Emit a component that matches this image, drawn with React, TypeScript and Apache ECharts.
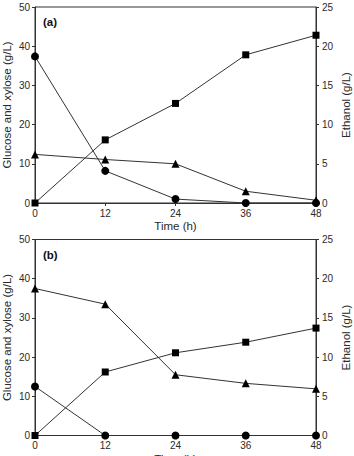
import React, { useEffect, useRef } from "react";
import * as echarts from "echarts";

// Sampling times (h)
const times = [0, 12, 24, 36, 48];

// Panel (a)
const glucoseA = [37.4, 8.2, 1.0, 0, 0];
const xyloseA = [12.4, 11.1, 10.0, 3.0, 0.7];
const ethanolA = [0, 8.05, 12.7, 18.9, 21.4];

// Panel (b)
const glucoseB = [12.5, 0, 0, 0, 0];
const xyloseB = [37.5, 33.5, 15.5, 13.3, 11.9];
const ethanolB = [0, 8.1, 10.55, 11.9, 13.7];

const panelLabels = ["(a)", "(b)"];

const FONT = "'Liberation Sans', Arial, sans-serif";
const TEXT = "#2a2a2a";
const LINE = "#333";

const pair = (ys: number[]) => times.map((t, i) => [t, ys[i]]);

export default function App() {
  const ref = useRef<HTMLDivElement>(null);

  useEffect(() => {
    if (!ref.current) return;
    const chart = echarts.init(ref.current, undefined, { renderer: "svg" });

    const gridBase = {
      left: 35,
      right: 38,
      height: 196,
      show: true,
      borderColor: LINE,
      borderWidth: 1,
      outerBoundsMode: "none",
      containLabel: false,
    };
    const grids = [
      { ...gridBase, top: 7 },
      { ...gridBase, top: 239.5 },
    ];

    const tick = { show: true, inside: false, length: 3, lineStyle: { color: LINE } };

    const xAxes = [0, 1].map((g) => ({
      type: "value",
      gridIndex: g,
      min: 0,
      max: 48,
      interval: 12,
      name: "Time (h)",
      nameLocation: "middle",
      nameGap: 17,
      nameMoveOverlap: false,
      nameTextStyle: { fontFamily: FONT, fontSize: 11.5, color: TEXT },
      axisLine: { show: true, lineStyle: { color: LINE, width: 1 } },
      axisTick: tick,
      axisLabel: { fontFamily: FONT, fontSize: 10, color: TEXT, margin: 5 },
      splitLine: { show: false },
    }));

    const yAxes: any[] = [];
    [0, 1].forEach((g) => {
      yAxes.push({
        type: "value",
        gridIndex: g,
        position: "left",
        min: 0,
        max: 50,
        interval: 10,
        name: "Glucose and xylose (g/L)",
        nameLocation: "middle",
        nameGap: 22,
        nameMoveOverlap: false,
        nameTextStyle: { fontFamily: FONT, fontSize: 11.5, color: TEXT },
        axisLine: { show: true, lineStyle: { color: LINE, width: 1 } },
        axisTick: tick,
        axisLabel: { fontFamily: FONT, fontSize: 10, color: TEXT, margin: 5 },
        splitLine: { show: false },
      });
      yAxes.push({
        type: "value",
        gridIndex: g,
        position: "right",
        min: 0,
        max: 25,
        interval: 5,
        name: "Ethanol (g/L)",
        nameLocation: "middle",
        nameGap: 24,
        nameRotate: 90,
        nameMoveOverlap: false,
        nameTextStyle: { fontFamily: FONT, fontSize: 11.5, color: TEXT },
        axisLine: { show: true, lineStyle: { color: LINE, width: 1 } },
        axisTick: tick,
        axisLabel: { fontFamily: FONT, fontSize: 10, color: TEXT, margin: 6 },
        splitLine: { show: false },
      });
    });

    const mk = (
      data: number[],
      g: number,
      yIdx: number,
      symbol: string,
      size: number
    ) => ({
      type: "line",
      xAxisIndex: g,
      yAxisIndex: yIdx,
      data: pair(data),
      symbol,
      symbolSize: size,
      showSymbol: true,
      clip: false,
      itemStyle: { color: "#000" },
      lineStyle: { color: LINE, width: 1 },
      z: 3,
    });

    chart.setOption({
      animation: false,
      backgroundColor: "#fff",
      grid: grids,
      xAxis: xAxes,
      yAxis: yAxes,
      graphic: panelLabels.map((t, i) => ({
        type: "text",
        left: 43,
        top: i === 0 ? 16 : 249,
        style: { text: t, fontFamily: FONT, fontSize: 11.5, fontWeight: "bold", fill: "#111" },
      })),
      series: [
        mk(glucoseA, 0, 0, "circle", 8),
        mk(xyloseA, 0, 0, "triangle", 8),
        mk(ethanolA, 0, 1, "rect", 7),
        mk(glucoseB, 1, 2, "circle", 8),
        mk(xyloseB, 1, 2, "triangle", 8),
        mk(ethanolB, 1, 3, "rect", 7),
      ],
    });

    return () => chart.dispose();
  }, []);

  return (
    <div
      ref={ref}
      style={{ position: "absolute", left: 0, top: 0, width: 354, height: 456 }}
    />
  );
}
